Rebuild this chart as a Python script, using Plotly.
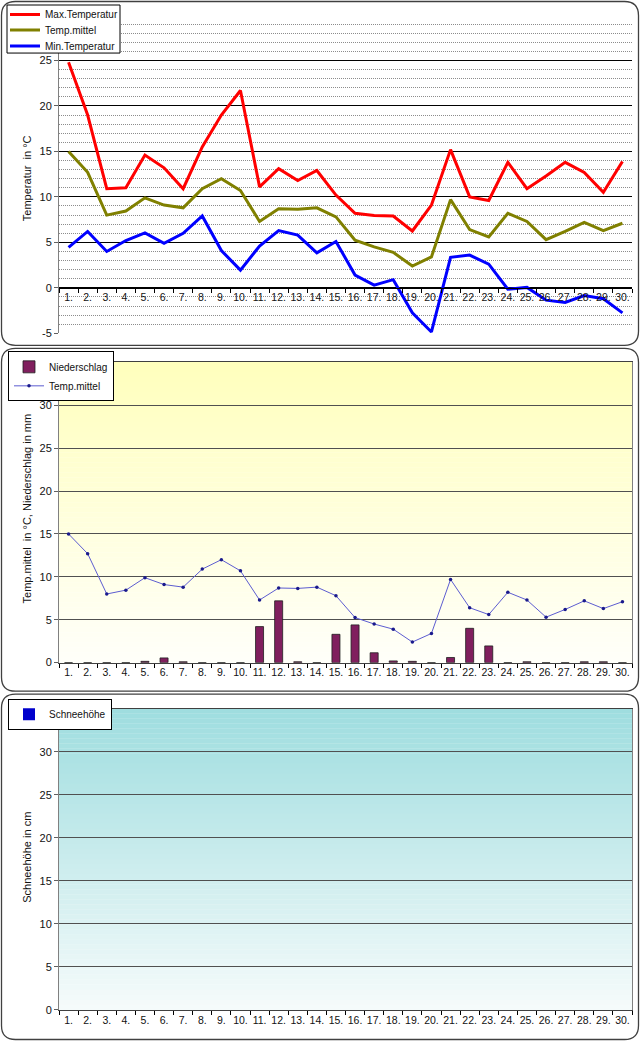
import plotly.graph_objects as go

days = [f"{i}." for i in range(1, 31)]

t_max = [24.8, 19.0, 10.9, 11.0, 14.6, 13.2, 10.9, 15.5, 19.0, 21.7,
         11.1, 13.1, 11.8, 12.9, 10.2, 8.2, 7.95, 7.9, 6.25, 9.1,
         15.2, 10.0, 9.6, 13.8, 10.9, 12.3, 13.8, 12.7, 10.5, 13.9]
t_mean = [15.0, 12.7, 8.0, 8.45, 9.9, 9.1, 8.8, 10.9, 12.0, 10.7,
          7.3, 8.7, 8.65, 8.8, 7.8, 5.25, 4.5, 3.9, 2.4, 3.4,
          9.7, 6.4, 5.6, 8.2, 7.3, 5.3, 6.2, 7.2, 6.3, 7.1]
t_min = [4.45, 6.2, 4.0, 5.2, 6.05, 4.9, 6.0, 7.9, 4.1, 1.95,
         4.6, 6.3, 5.8, 3.85, 5.1, 1.4, 0.3, 0.9, -2.75, -4.85,
         3.35, 3.6, 2.6, -0.15, 0.05, -1.35, -1.6, -0.85, -1.2, -2.75]
precip = [0, 0, 0, 0, 0.15, 0.55, 0.1, 0, 0, 0,
          4.2, 7.2, 0.1, 0, 3.3, 4.4, 1.15, 0.2, 0.15, 0,
          0.6, 4.0, 1.95, 0, 0.1, 0, 0, 0.1, 0.1, 0]
snow = [0] * 30

REF_W, REF_H = 640, 1041      # reference pixel grid used for placing things
FIG_W, FIG_H = 640, 1048      # rendered size
FONT = "Liberation Sans, Arial, sans-serif"


def X(px):
    return px / REF_W


def Y(py):
    return 1 - py / REF_H


PLOT_L, PLOT_R = 59, 632
panels = [  # plot top/bottom px, range
    (15, 333, [-5, 30]),
    (362, 662, [0, 35]),
    (708, 1009, [0, 35]),
]

fig = go.Figure()

fig.add_trace(go.Scatter(x=days, y=t_max, name="Max.Temperatur", mode="lines", showlegend=True,
                         line=dict(color="#FF0000", width=3), xaxis="x", yaxis="y", legend="legend"))
fig.add_trace(go.Scatter(x=days, y=t_mean, name="Temp.mittel", mode="lines", showlegend=True,
                         line=dict(color="#808000", width=3), xaxis="x", yaxis="y", legend="legend4"))
fig.add_trace(go.Scatter(x=days, y=t_min, name="Min.Temperatur", mode="lines", showlegend=True,
                         line=dict(color="#0000FF", width=3), xaxis="x", yaxis="y", legend="legend5"))

fig.add_trace(go.Bar(x=days, y=precip, name="Niederschlag", width=0.42, showlegend=True,
                     marker=dict(color="#801F5E", line=dict(color="#202020", width=0.8)),
                     xaxis="x2", yaxis="y2", legend="legend2"))
fig.add_trace(go.Scatter(x=days, y=t_mean, name="Temp.mittel", mode="lines+markers", showlegend=True,
                         line=dict(color="#5C5CD0", width=1),
                         marker=dict(color="#1A1A8C", size=3.5),
                         xaxis="x2", yaxis="y2", legend="legend2"))

fig.add_trace(go.Bar(x=days, y=snow, name="Schneehöhe", width=0.42, showlegend=True,
                     marker=dict(color="#0000CC", line=dict(width=0)),
                     xaxis="x3", yaxis="y3", legend="legend3"))

tickfont = dict(family=FONT, size=11, color="#111111")
xtickfont = dict(family=FONT, size=10.5, color="#111111")
xdom = [X(PLOT_L), X(PLOT_R)]

layout = dict(
    width=FIG_W, height=FIG_H,
    margin=dict(l=0, r=0, t=0, b=0),
    paper_bgcolor="white",
    plot_bgcolor="rgba(0,0,0,0)",
    font=dict(family=FONT, size=11, color="#111111"),
    barmode="overlay",
    hovermode=False,
    showlegend=True,
)

for i, (top, bot, rng) in enumerate(panels):
    n = "" if i == 0 else str(i + 1)
    ydom = [Y(bot), Y(top)]
    yax = dict(domain=ydom, range=rng, anchor="x" + n, tickfont=tickfont,
               showline=True, linecolor="#808080", linewidth=1,
               ticks="outside", ticklen=4, tickcolor="#606060",
               zeroline=False, fixedrange=True)
    xax = dict(domain=xdom, anchor="y" + n, type="category", tickfont=xtickfont,
               tickangle=0,
               tickson="boundaries", ticks="outside", ticklen=4, tickcolor="#000000",
               showline=True, linecolor="#000000", linewidth=1,
               showgrid=False, zeroline=False, fixedrange=True,
               range=[-0.5, 29.5])
    if i == 0:
        yax.update(tickvals=[-5, 0, 5, 10, 15, 20, 25, 30],
                   ticktext=["-5", "0", "5", "10", "15", "20", "25", ""],
                   showgrid=True, gridcolor="#000000", gridwidth=1.3,
                   minor=dict(dtick=1, showgrid=True, gridcolor="#8C8C8C",
                              griddash="1px,1px", gridwidth=1, ticks=""))
        zero_pos = ydom[0] + (0 - rng[0]) / (rng[1] - rng[0]) * (ydom[1] - ydom[0])
        xax.update(anchor="free", position=zero_pos)
    else:
        yax.update(tickvals=[0, 5, 10, 15, 20, 25, 30], showgrid=True,
                   gridcolor="#505050", gridwidth=1, mirror=True)
        xax.update(mirror=True, linecolor="#404040")
    layout["yaxis" + n] = yax
    layout["xaxis" + n] = xax

lfont = dict(family=FONT, size=10, color="#111111")
legend_common = dict(bgcolor="white", bordercolor="#000000", borderwidth=1,
                     xanchor="left", yanchor="top", font=lfont, visible=True,
                     tracegroupgap=0, itemclick=False, itemdoubleclick=False)
single_common = dict(bgcolor="rgba(0,0,0,0)", borderwidth=0, visible=True,
                     xanchor="left", yanchor="top", font=lfont,
                     itemclick=False, itemdoubleclick=False)
layout["legend"] = dict(x=X(5), y=Y(0), **single_common)
layout["legend4"] = dict(x=X(5), y=Y(15.5), **single_common)
layout["legend5"] = dict(x=X(5), y=Y(31.5), **single_common)
layout["legend2"] = dict(x=X(8), y=Y(351), **legend_common)
layout["legend3"] = dict(x=X(8), y=Y(698), **legend_common)

fig.update_layout(**layout)

shapes = []
N = 60


def lerp(c1, c2, t):
    return "rgb(%d,%d,%d)" % tuple(round(a + (b - a) * t) for a, b in zip(c1, c2))


grads = [("2", (255, 255, 188), (255, 255, 250)),
         ("3", (158, 221, 223), (246, 251, 251))]
for n, ctop, cbot in grads:
    for k in range(N):
        t = (k + 0.5) / N
        shapes.append(dict(type="rect", xref=f"x{n} domain", yref=f"y{n} domain",
                           x0=0, x1=1, y0=1 - (k + 1) / N, y1=1 - k / N + 0.001,
                           fillcolor=lerp(ctop, cbot, t), line=dict(width=0),
                           layer="below"))


def rounded(x0, y0, x1, y1, r):
    return (f"M {X(x0 + r)},{Y(y0)} L {X(x1 - r)},{Y(y0)} Q {X(x1)},{Y(y0)} {X(x1)},{Y(y0 + r)} "
            f"L {X(x1)},{Y(y1 - r)} Q {X(x1)},{Y(y1)} {X(x1 - r)},{Y(y1)} "
            f"L {X(x0 + r)},{Y(y1)} Q {X(x0)},{Y(y1)} {X(x0)},{Y(y1 - r)} "
            f"L {X(x0)},{Y(y0 + r)} Q {X(x0)},{Y(y0)} {X(x0 + r)},{Y(y0)} Z")


for (y0, y1) in [(1.5, 345), (348, 690.5), (693.5, 1038.5)]:
    shapes.append(dict(type="path", xref="paper", yref="paper",
                       path=rounded(1.5, y0, 638.5, y1, 14),
                       line=dict(color="#404040", width=1.3), layer="below"))

shapes.append(dict(type="rect", xref="paper", yref="paper",
                   x0=X(7), x1=X(120), y0=Y(53), y1=Y(5),
                   fillcolor="white", line=dict(color="#000000", width=1), layer="above"))

fig.update_layout(shapes=shapes)

titles = [("Temperatur  in °C", 178), ("Temp.mittel  in °C, Niederschlag in mm", 508),
          ("Schneehöhe in cm", 857)]
for txt, yc in titles:
    fig.add_annotation(text=txt, x=X(27), y=Y(yc), xref="paper", yref="paper",
                       textangle=-90, showarrow=False, xanchor="center", yanchor="middle",
                       font=dict(family=FONT, size=11, color="#111111"))

post_js = (
    "var s=document.createElement('style');"
    "s.textContent='html,body{margin:0;padding:0;overflow:hidden;background:#ffffff;}"
    "body>div{font-size:0;line-height:0;}';"
    "document.head.appendChild(s);"
)
fig.write_html("out.html", config={"displayModeBar": False}, post_script=post_js)
